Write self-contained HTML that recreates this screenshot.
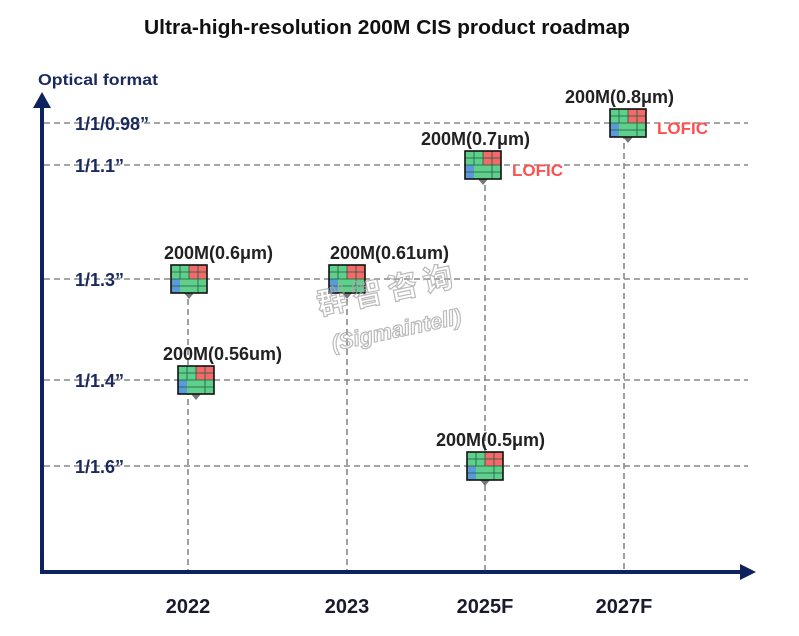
<!DOCTYPE html>
<html><head><meta charset="utf-8"><style>
html,body{margin:0;padding:0;background:#fff;}
svg{display:block;font-family:"Liberation Sans","Noto Sans CJK SC",sans-serif;}
</style></head><body>
<svg id="chart" width="799" height="636" viewBox="0 0 799 636">
<text x="387" y="34" text-anchor="middle" font-size="20" font-weight="bold" fill="#111" textLength="486" lengthAdjust="spacingAndGlyphs">Ultra-high-resolution 200M CIS product roadmap</text>
<text x="38" y="85" font-size="16" font-weight="bold" fill="#1a2a5e" textLength="120" lengthAdjust="spacingAndGlyphs">Optical format</text>
<g id="grid"></g>
<g id="marks"></g>
<line x1="42" y1="572" x2="42" y2="106" stroke="#0f2260" stroke-width="4"/>
<polygon points="33,108 42,92 51,108" fill="#0f2260"/>
<line x1="40" y1="572" x2="744" y2="572" stroke="#0f2260" stroke-width="4"/>
<polygon points="740,564 756,572 740,580" fill="#0f2260"/>
<g id="labels"></g>
<g transform="translate(390,300) rotate(-12)" fill="none" stroke="#aaa" stroke-width="1.2" opacity="0.8">
<text x="0" y="0" text-anchor="middle" font-size="30" font-weight="bold" letter-spacing="6">群智咨询</text>
<text x="0" y="38" text-anchor="middle" font-size="22" font-weight="bold" font-style="italic">(Sigmaintell)</text>
</g>
</svg>
<script>
const years = ["2022","2023","2025F","2027F"];
const formats = ["1/1/0.98\u201d","1/1.1\u201d","1/1.3\u201d","1/1.4\u201d","1/1.6\u201d"];
const pointYear = [0,0,1,2,2,3];
const pointFormat = [2,3,2,1,4,0];
const pointLabels = ["200M(0.6\u03bcm)","200M(0.56um)","200M(0.61um)","200M(0.7\u03bcm)","200M(0.5\u03bcm)","200M(0.8\u03bcm)"];
const pointTags = ["","","","LOFIC","","LOFIC"];

const NS="http://www.w3.org/2000/svg";
const xPos = [188,347,485,624];
const yPos = [123,165,279,380,466];
function xScale(i){return xPos[i];}
function yScale(i){return yPos[i];}
function mk(tag,attrs,parent){const e=document.createElementNS(NS,tag);for(const k in attrs)e.setAttribute(k,attrs[k]);parent.appendChild(e);return e;}
const grid=document.getElementById('grid'),marks=document.getElementById('marks'),labels=document.getElementById('labels');

formats.forEach((f,i)=>{
  const y=yScale(i);
  const l=mk('line',{x1:44,y1:y,x2:748,y2:y,stroke:'#888','stroke-width':1.6,'stroke-dasharray':'6,4'},grid);
  
  
  const t=mk('text',{x:75,y:y+7,'font-size':18,'font-weight':'bold',fill:'#1a2a5e'},labels);
  t.textContent=f;
  
  
});
years.forEach((yr,i)=>{
  const t=mk('text',{x:xScale(i),y:613,'text-anchor':'middle','font-size':20,'font-weight':'bold',fill:'#1a1a2e'},labels);
  t.textContent=yr;
  
  
});
years.forEach((yr,i)=>{
  let top=1e9;
  pointYear.forEach((py,j)=>{if(py===i)top=Math.min(top,yScale(pointFormat[j]));});
  const l=mk('line',{x1:xScale(i),y1:top,x2:xScale(i),y2:570,stroke:'#888','stroke-width':1.6,'stroke-dasharray':'6,4'},grid);
  
  
});
const offs=[1,8,0,-2,0,4];
const labelDx=[-25,-33,-17,-62,-49,-63];
pointYear.forEach((py,j)=>{
  const cx=xScale(py)+offs[j], cy=yScale(pointFormat[j]);
  const g=mk('g',{transform:`translate(${cx-18},${cy-14})`},marks);
  
  
  mk('polygon',{points:'13,28 23,28 18,34',fill:'#777'},g);
  mk('rect',{x:0,y:0,width:36,height:28,fill:'#5fcf8c'},g);
  mk('rect',{x:18,y:0,width:18,height:14,fill:'#f26a6a'},g);
  mk('rect',{x:0,y:14,width:9,height:14,fill:'#5b9ad8'},g);
  for(let k=1;k<4;k++)mk('line',{x1:k*9,y1:0,x2:k*9,y2:14,stroke:'#1f5a3a','stroke-width':0.8},g);
  mk('line',{x1:0,y1:7,x2:36,y2:7,stroke:'#1f5a3a','stroke-width':0.8},g);
  mk('line',{x1:0,y1:14,x2:36,y2:14,stroke:'#1f5a3a','stroke-width':0.8},g);
  mk('line',{x1:0,y1:21,x2:36,y2:21,stroke:'#1f5a3a','stroke-width':0.8},g);
  mk('line',{x1:27,y1:14,x2:27,y2:28,stroke:'#1f5a3a','stroke-width':0.8},g);
  mk('rect',{x:0,y:0,width:36,height:28,fill:'none',stroke:'#111','stroke-width':1.6},g);
  const t=mk('text',{x:cx+labelDx[j],y:cy-20,'font-size':18,'font-weight':'bold',fill:'#222'},labels);
  t.textContent=pointLabels[j];
  
  
  if(pointTags[j]){
    const tg=mk('text',{x:cx+29,y:cy+11,'font-size':17,'font-weight':'bold',fill:'#ff5050'},labels);
    tg.textContent=pointTags[j];
    
    
  }
});
</script>
</body></html>
